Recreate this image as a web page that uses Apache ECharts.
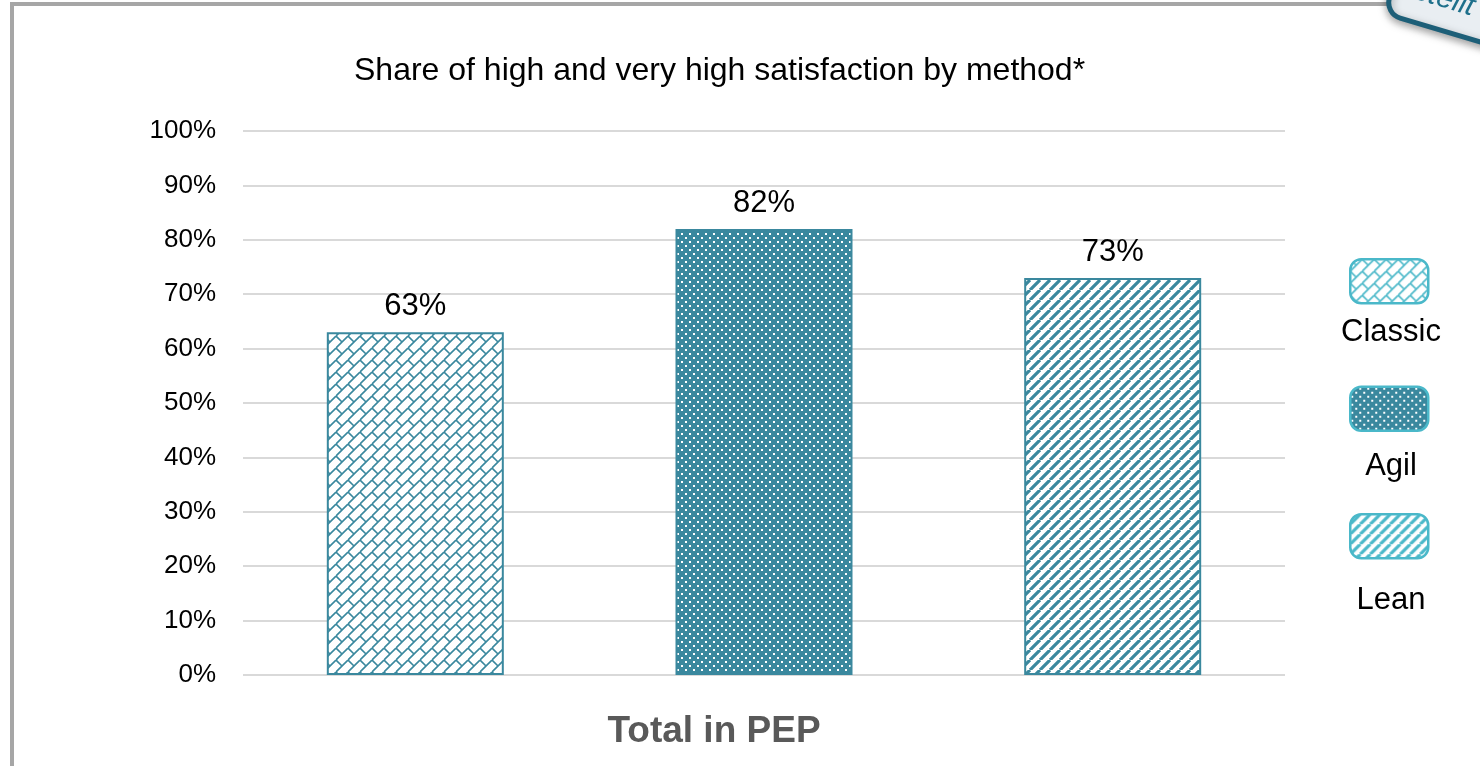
<!DOCTYPE html>
<html>
<head>
<meta charset="utf-8">
<script src="https://cdn.jsdelivr.net/npm/echarts@6/dist/echarts.min.js"></script>
<style>
  html, body { margin: 0; padding: 0; background: #fff; }
  #chart { width: 1480px; height: 766px; }
</style>
</head>
<body>
<div id="chart"></div>
<script>
// data
const categories = ['Total in PEP'];
const methods = ['Classic', 'Agil', 'Lean'];
const classicVals = [63];
const agilVals = [82];
const leanVals = [73];
const yTicks = { min: 0, max: 100, step: 10 };

const FONT = "'Liberation Sans', Arial, sans-serif";
const TEAL = '#3a889e';
const CYAN = '#4ab8c9';

// --- pattern tiles ---
function tile(size, draw) {
    const c = document.createElement('canvas');
    c.width = size; c.height = size;
    draw(c.getContext('2d'), size);
    return { image: c, repeat: 'repeat' };
}
function brick(col) {
    return tile(12, (ctx, s) => {
        ctx.fillStyle = '#fff'; ctx.fillRect(0, 0, s, s);
        ctx.strokeStyle = col; ctx.lineWidth = 1.6;
        ctx.beginPath();
        for (const o of [-s, 0, s]) { ctx.moveTo(o, s); ctx.lineTo(o + s, 0); }
        ctx.moveTo(0, 0); ctx.lineTo(6, 6);
        ctx.stroke();
    });
}
function dots(bg) {
    return tile(8, (ctx, s) => {
        ctx.fillStyle = bg; ctx.fillRect(0, 0, s, s);
        ctx.fillStyle = '#fff';
        ctx.fillRect(1, 1, 2, 2);
        ctx.fillRect(5, 5, 2, 2);
    });
}
function stripes(col) {
    return tile(10, (ctx, s) => {
        ctx.fillStyle = '#fff'; ctx.fillRect(0, 0, s, s);
        ctx.strokeStyle = col; ctx.lineWidth = 3.2;
        ctx.beginPath();
        for (const o of [-s, 0, s]) { ctx.moveTo(o, s); ctx.lineTo(o + s, 0); }
        ctx.stroke();
    });
}

const fills = [brick(TEAL), dots(TEAL), stripes(TEAL)];
const legendFills = [brick(CYAN), dots(TEAL), stripes(CYAN)];
const values = [classicVals, agilVals, leanVals];

const chart = echarts.init(document.getElementById('chart'));

const series = methods.map((m, i) => ({
    name: m,
    type: 'bar',
    data: values[i],
    barWidth: 177,
    barGap: '97%',
    itemStyle: { color: fills[i], borderColor: TEAL, borderWidth: 2 },
    label: {
        show: true, position: 'top', distance: 10,
        formatter: '{c}%', color: '#000', fontSize: 31, fontFamily: FONT
    }
}));

// legend label positions (text under each icon)
const legendLabelY = [332, 466, 600];

const option = {
    animation: false,
    title: {
        text: 'Share of high and very high satisfaction by method*',
        left: 354, top: 55, padding: 0,
        textStyle: { color: '#000', fontSize: 32, fontWeight: 'normal', fontFamily: FONT }
    },
    grid: { left: 243, right: 195, top: 131, bottom: 91 },
    legend: {
        orient: 'vertical',
        left: 1349, top: 258, padding: 0,
        itemWidth: 78, itemHeight: 44, itemGap: 81,
        icon: 'roundRect',
        formatter: () => '',
        selectedMode: false,
        itemStyle: { borderColor: CYAN, borderWidth: 2.5 },
        data: methods.map((m, i) => ({ name: m, itemStyle: { color: legendFills[i] } }))
    },
    xAxis: {
        type: 'category',
        data: categories,
        axisLine: { show: false },
        axisTick: { show: false },
        axisLabel: {
            margin: 38, color: '#595959', fontSize: 37, fontWeight: 'bold',
            fontFamily: FONT, padding: [0, 100, 0, 0]
        }
    },
    yAxis: {
        type: 'value',
        min: yTicks.min, max: yTicks.max, interval: yTicks.step,
        axisLine: { show: false },
        axisTick: { show: false },
        axisLabel: { formatter: '{value}%', margin: 27, color: '#000', fontSize: 26, fontFamily: FONT },
        splitLine: { lineStyle: { color: '#d9d9d9', width: 2 } }
    },
    graphic: [
        // outer frame
        {
            type: 'rect', z: -1, silent: true,
            shape: { x: 12, y: 4, width: 1600, height: 900 },
            style: { fill: 'none', stroke: '#a6a6a6', lineWidth: 4 }
        },
        // corner badge
        {
            type: 'group', x: 1402, y: -44, rotation: -0.29, z: 100,
            children: [
                {
                    type: 'rect',
                    shape: { x: 0, y: 0, width: 240, height: 60, r: 16 },
                    style: {
                        fill: '#e9eef2', stroke: '#1d5f78', lineWidth: 5,
                        shadowBlur: 8, shadowColor: 'rgba(0,0,0,0.35)', shadowOffsetY: 3
                    }
                },
                {
                    type: 'text', x: -8, y: 14,
                    style: { text: 'Erstellt', fill: '#1d6f8b', fontSize: 30, fontStyle: 'italic', fontFamily: FONT }
                }
            ]
        }
    ].concat(methods.map((m, i) => ({
        type: 'text', x: 1391, y: legendLabelY[i],
        style: {
            text: m, fill: '#000', fontSize: 31, fontFamily: FONT,
            textAlign: 'center', textVerticalAlign: 'middle'
        }
    }))),
    series: series
};

chart.setOption(option);
</script>
</body>
</html>
